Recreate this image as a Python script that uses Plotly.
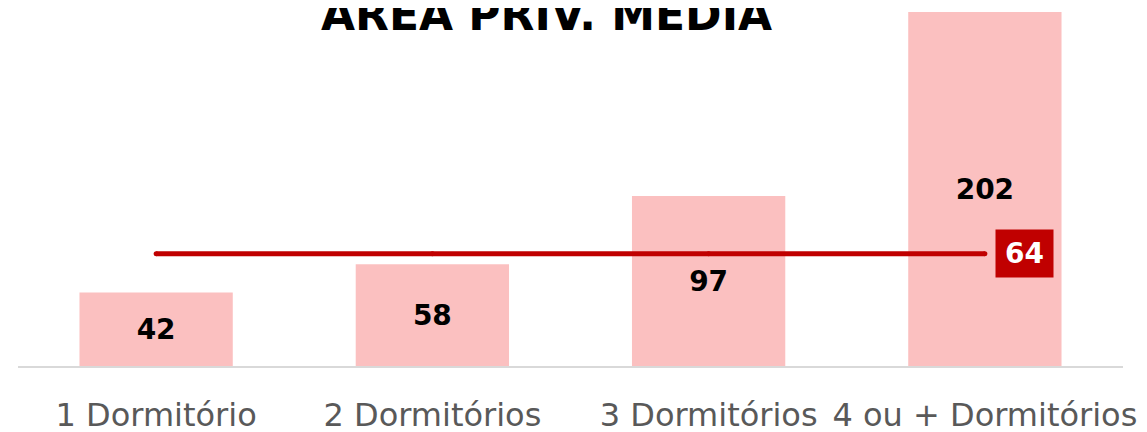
import plotly.graph_objects as go

# Dados
categorias = ['1 Dormitório', '2 Dormitórios', '3 Dormitórios', '4 ou + Dormitórios']
area_privativa = [42, 58, 97, 202]
linha_media = [64, 64, 64, 64]
titulo = 'ÁREA PRIV. MÉDIA'

COR_BARRA = '#FBC0C0'
COR_LINHA = '#C00000'

fig = go.Figure()

# Barras de área privativa
fig.add_trace(go.Bar(
    x=categorias,
    y=area_privativa,
    marker=dict(color=COR_BARRA, line=dict(width=0)),
    texttemplate='<b>%{y}</b>',
    textposition='inside',
    insidetextanchor='middle',
    textfont=dict(family='DejaVu Sans', size=28, color='black'),
    hoverinfo='skip',
    showlegend=False,
))

# Linha de referência (marcadores simulam as pontas arredondadas)
fig.add_trace(go.Scatter(
    x=categorias,
    y=linha_media,
    mode='lines+markers',
    line=dict(color=COR_LINHA, width=5),
    marker=dict(color=COR_LINHA, size=5),
    hoverinfo='skip',
    showlegend=False,
))

# Rótulo da linha
fig.add_annotation(
    x=categorias[-1], y=linha_media[-1],
    xref='x', yref='y',
    text='<b>%d</b>' % linha_media[-1],
    showarrow=False,
    xshift=40,
    font=dict(family='DejaVu Sans', size=28, color='white'),
    bgcolor=COR_LINHA,
    width=57, height=47,
    borderpad=0,
)

# Título (cortado no topo, como na imagem original)
fig.add_annotation(
    x=0.478, y=0.915,
    xref='paper', yref='paper',
    xanchor='center', yanchor='bottom',
    text='<b>%s</b>' % titulo,
    showarrow=False,
    font=dict(family='DejaVu Sans', size=44, color='black'),
)

# margens compensam os 8px de margem do <body> da página
fig.update_layout(
    width=1147, height=432,
    margin=dict(l=10, r=32, t=4, b=74, autoexpand=False),
    paper_bgcolor='white',
    plot_bgcolor='white',
    bargap=0.445,
    xaxis=dict(
        showline=True, linecolor='#D9D9D9', linewidth=2,
        showgrid=False, zeroline=False, automargin=False,
        ticks='', ticklabelstandoff=20,
        tickfont=dict(family='DejaVu Sans', size=32, color='#595959'),
    ),
    yaxis=dict(
        range=[0, 202],
        visible=False, automargin=False,
        showgrid=False, zeroline=False,
    ),
)

fig.write_html("out.html")
